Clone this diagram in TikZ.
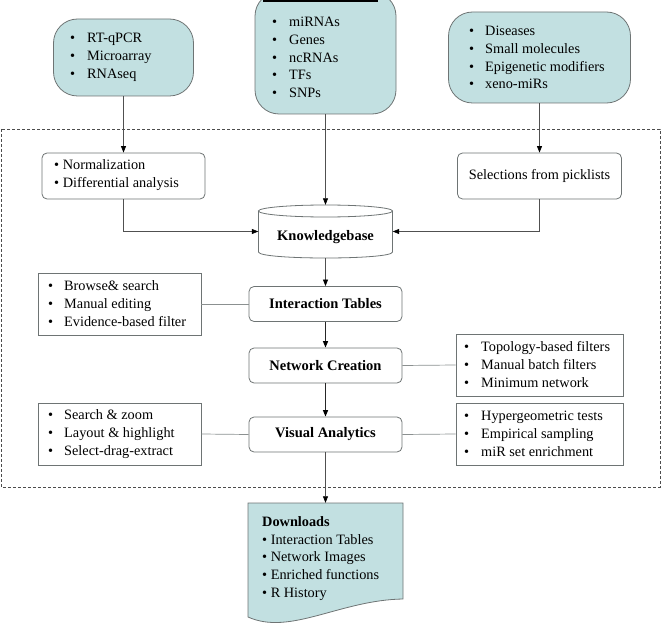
\documentclass[tikz,border=0pt]{standalone}
\usepackage{fontspec}
\setmainfont{Liberation Serif}
\usetikzlibrary{arrows.meta}
\definecolor{tealfill}{HTML}{C2E0E1}
\definecolor{linegray}{HTML}{6E7474}
\definecolor{arrowgray}{HTML}{505050}
\newcommand{\bl}[1]{\makebox[#1][l]{\textbullet}}
\begin{document}
\begin{tikzpicture}[x=1pt,y=-1pt,
  term/.style={draw=linegray, fill=tealfill, rounded corners=24pt, line width=0.8pt, inner sep=0pt},
  proc/.style={draw=linegray, fill=white, rounded corners=5pt, line width=0.8pt, inner sep=0pt,
               font=\fontsize{14.5}{17}\selectfont\bfseries, minimum width=153pt, minimum height=35pt},
  plainbox/.style={draw=linegray, fill=white, rounded corners=5pt, line width=0.8pt, inner sep=0pt,
               font=\fontsize{14.3}{18}\selectfont},
  listbox/.style={draw=linegray, fill=white, line width=0.8pt, inner sep=0pt},
  txt/.style={inner sep=0pt, anchor=west, align=left, font=\fontsize{14.3}{18}\selectfont},
  conn/.style={draw=arrowgray, line width=0.7pt, -{Triangle[length=6.5pt,width=5pt,color=black]}},
  thickconn/.style={draw=black!85, line width=1.3pt, -{Triangle[length=6.5pt,width=5pt,color=black]}},
  link/.style={draw=linegray!80, line width=0.7pt}
]
\useasboundingbox (0,0) rectangle (662,623);

% dashed frame
\draw[draw=black!70, line width=0.7pt, dash pattern=on 3pt off 2pt] (1,129) rectangle (660,487);

% input terminals
\begin{scope}
\clip (0,0) rectangle (662,623);
\node[term, minimum width=140pt, minimum height=77pt] (lt) at (123.5,57.5) {};
\node[term, minimum width=141pt, minimum height=122pt] (mt) at (325.5,53) {};
\node[term, minimum width=182pt, minimum height=91pt] (rt) at (539.5,57.5) {};
\end{scope}
\draw[black, line width=1.6pt] (263,0.8) -- (378,0.8);

\node[txt] (ltx) at (70,57.5) {\bl{17pt}RT-qPCR\\\bl{17pt}Microarray\\\bl{17pt}RNAseq};
\node[txt, font=\fontsize{14.3}{17.75}\selectfont] (mtx) at (272,57.5) {\bl{17pt}miRNAs\\\bl{17pt}Genes\\\bl{17pt}ncRNAs\\\bl{17pt}TFs\\\bl{17pt}SNPs};
\node[txt, font=\fontsize{14.3}{17.75}\selectfont] (rtx) at (469,57.5) {\bl{16pt}Diseases\\\bl{16pt}Small molecules\\\bl{16pt}Epigenetic modifiers\\\bl{16pt}xeno-miRs};

% preprocessing boxes
\node[plainbox, minimum width=163pt, minimum height=46pt] (norm) at (123.5,176) {};
\node[txt] (normx) at (54,175.5) {\textbullet\ Normalization\\\textbullet\ Differential analysis};
\node[plainbox, minimum width=164pt, minimum height=46pt] (sel) at (539.5,176) {Selections from picklists};

% knowledgebase cylinder
\node[inner sep=0pt, minimum width=134pt, minimum height=53pt] (kb) at (325.5,231.5) {};
\fill[white] (258.5,211) -- (258.5,252) .. controls (258.5,260) and (392.5,260) .. (392.5,252) -- (392.5,211) -- cycle;
\draw[draw=linegray, line width=0.8pt, fill=white] (325.5,211) ellipse [x radius=67pt, y radius=6pt];
\draw[draw=linegray, line width=0.8pt] (258.5,211) -- (258.5,252) .. controls (258.5,260) and (392.5,260) .. (392.5,252) -- (392.5,211);
\node[font=\fontsize{14.5}{17}\selectfont\bfseries, inner sep=0pt] (kbx) at (325.5,237) {Knowledgebase};

% process boxes
\node[proc] (it) at (325.5,304) {Interaction Tables};
\node[proc] (nc) at (325.5,365.5) {Network Creation};
\node[proc] (va) at (325.5,434.5) {Visual Analytics};

% side lists
\node[listbox, minimum width=163pt, minimum height=62pt] (l1) at (119.5,304) {};
\node[txt] (l1x) at (48,304) {\bl{16pt}Browse\& search\\\bl{16pt}Manual editing\\\bl{16pt}Evidence-based filter};
\node[listbox, minimum width=167pt, minimum height=62pt] (r1) at (539.5,365) {};
\node[txt] (r1x) at (464,365) {\bl{17pt}Topology-based filters\\\bl{17pt}Manual batch filters\\\bl{17pt}Minimum network};
\node[listbox, minimum width=163pt, minimum height=62pt] (l2) at (119.5,434) {};
\node[txt] (l2x) at (48,434) {\bl{16pt}Search \& zoom\\\bl{16pt}Layout \& highlight\\\bl{16pt}Select-drag-extract};
\node[listbox, minimum width=167pt, minimum height=62pt] (r2) at (539.5,434) {};
\node[txt] (r2x) at (464,434) {\bl{17pt}Hypergeometric tests\\\bl{17pt}Empirical sampling\\\bl{17pt}miR set enrichment};

% downloads document
\node[inner sep=0pt, minimum width=155pt, minimum height=104pt] (dl) at (325.5,555) {};
\draw[draw=linegray, line width=0.8pt, fill=tealfill] (248,503) -- (403,503) -- (403,599)
  .. controls (340,600) and (290,636) .. (248,617) -- cycle;
\node[txt, font=\fontsize{14.3}{17.75}\selectfont] (dlx) at (262,558.5) {\textbf{Downloads}\\\textbullet\ Interaction Tables\\\textbullet\ Network Images\\\textbullet\ Enriched functions\\\textbullet\ R History};

% connectors
\draw[conn] (lt.south) -- (lt.south |- norm.north);
\draw[conn] (mt.south) -- (kb.north);
\draw[conn] (rt.south) -- (rt.south |- sel.north);
\draw[conn] (norm.south) |- (kb.west);
\draw[conn] (sel.south) |- (kb.east);
\draw[conn] (kb.south) -- (it.north);
\draw[thickconn] (it.south) -- (nc.north);
\draw[thickconn] (nc.south) -- (va.north);
\draw[conn] (va.south) -- (dl.north);

\draw[link] (l1.east) -- (it.west);
\draw[link] (nc.east) -- (r1.west);
\draw[link] (l2.east) -- (va.west);
\draw[link] (va.east) -- (r2.west);
\end{tikzpicture}
\end{document}
